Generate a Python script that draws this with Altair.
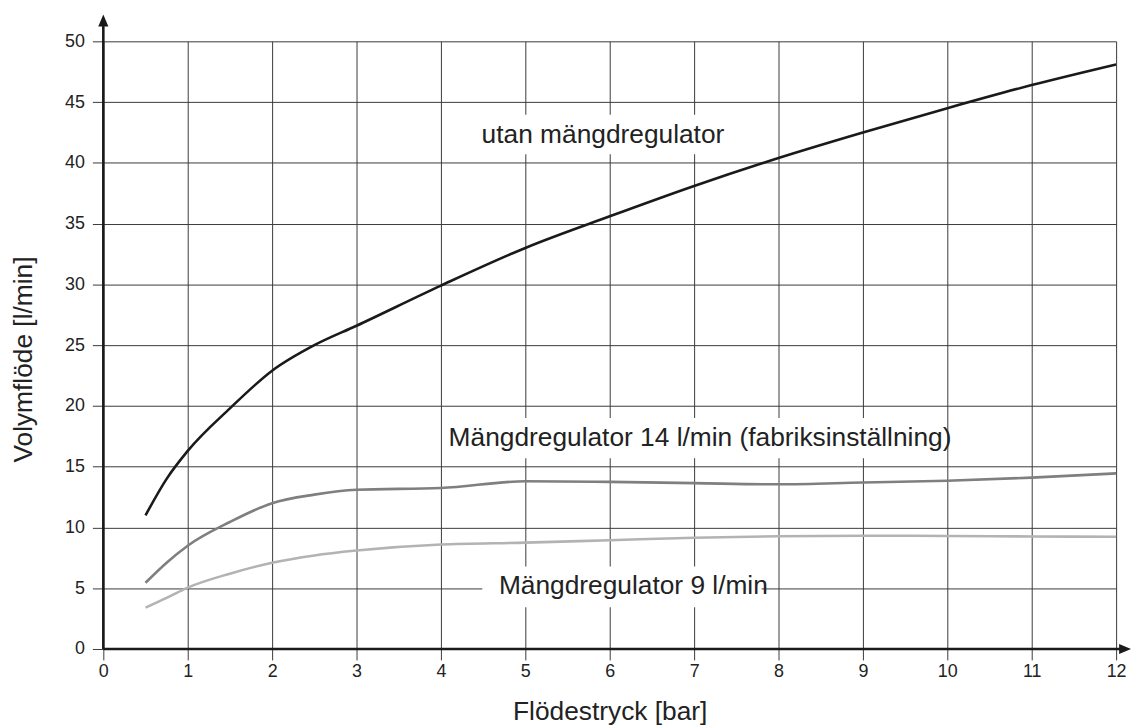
import altair as alt
import pandas as pd

# ---- data ----
x_vals = [0.5, 0.75, 1, 1.5, 2, 2.5, 3, 4, 5, 6, 7, 8, 9, 10, 11, 12]
utan = [11.0, 14.0, 16.3, 19.8, 22.9, 25.0, 26.6, 29.9, 33.0, 35.6, 38.1, 40.4, 42.5, 44.5, 46.4, 48.1]
reg14 = [5.45, 7.1, 8.5, 10.45, 12.0, 12.7, 13.1, 13.25, 13.8, 13.75, 13.65, 13.55, 13.7, 13.85, 14.1, 14.45]
reg9 = [3.4, 4.2, 5.05, 6.2, 7.1, 7.7, 8.1, 8.6, 8.75, 8.95, 9.15, 9.28, 9.32, 9.3, 9.26, 9.23]

series_names = ["utan mängdregulator", "Mängdregulator 14 l/min (fabriksinställning)", "Mängdregulator 9 l/min"]
series_colors = ["#1a1a1a", "#7f7f7f", "#b3b3b3"]

label_text = series_names
label_x = [5.92, 7.07, 6.28]
label_y = [41.6, 16.69, 4.49]
# white label background boxes (data units)
box_x0 = [4.31, 4.05, 4.49]
box_x1 = [7.42, 9.93, 7.80]
box_y0 = [40.7, 15.7, 3.43]
box_y1 = [43.95, 19.0, 6.78]

X_MAX, Y_MAX = 12, 50
x_ticks = list(range(0, 13))
y_ticks = list(range(0, 51, 5))

FONT = "Liberation Sans"

rows = []
for name, vals in zip(series_names, [utan, reg14, reg9]):
    for xv, yv in zip(x_vals, vals):
        rows.append({"x": xv, "y": yv, "series": name})
df = pd.DataFrame(rows)

labels = pd.DataFrame({"text": label_text, "x": label_x, "y": label_y})
boxes = pd.DataFrame({"x": box_x0, "x2": box_x1, "y": box_y0, "y2": box_y1})

xs = alt.Scale(domain=[0, X_MAX], nice=False, zero=False)
ys = alt.Scale(domain=[0, Y_MAX], nice=False, zero=False)

GRID = "#3a3a3a"
x_axis = alt.Axis(values=x_ticks, grid=True, gridColor=GRID, gridWidth=1, domain=False,
                  ticks=True, tickColor=GRID, tickSize=11, tickWidth=1, labelFlush=False,
                  labelFont=FONT, labelFontSize=18, labelColor="#222", labelPadding=3,
                  title="Flödestryck [bar]", titleFont=FONT, titleFontSize=26.5,
                  titleFontWeight="normal", titleColor="#222",
                  titleBaseline="alphabetic", titleY=71)
y_axis = alt.Axis(values=y_ticks, grid=True, gridColor=GRID, gridWidth=1, domain=False,
                  ticks=True, tickColor=GRID, tickSize=11, tickWidth=1, labelFlush=False,
                  labelFont=FONT, labelFontSize=18, labelColor="#222", labelPadding=8,
                  title="Volymflöde [l/min]", titleFont=FONT, titleFontSize=26.5,
                  titleFontWeight="normal", titleColor="#222", titleAngle=270,
                  titleAlign="center", titleBaseline="alphabetic", titleX=-72, titleY=320)

X = lambda: alt.X("x:Q", scale=xs, axis=x_axis)
Y = lambda: alt.Y("y:Q", scale=ys, axis=y_axis)

box_layer = alt.Chart(boxes).mark_rect(fill="white", strokeWidth=0).encode(
    x=X(), x2="x2:Q", y=Y(), y2="y2:Q",
)

lines = alt.Chart(df).mark_line(strokeWidth=2.6, interpolate="monotone").encode(
    x=X(), y=Y(),
    color=alt.Color("series:N", scale=alt.Scale(domain=series_names, range=series_colors), legend=None),
    detail="series:N",
)

# axis lines with arrows
y_line_top = Y_MAX + 1.3
x_line_end = X_MAX + 0.05
axis_lines = pd.DataFrame({
    "x": [0, 0], "x2": [0, x_line_end], "y": [0, 0], "y2": [y_line_top, 0]
})
axis_rules = alt.Chart(axis_lines).mark_rule(color="#1a1a1a", strokeWidth=2.6).encode(
    x=X(), x2="x2:Q", y=Y(), y2="y2:Q",
)

up_arrow = alt.Chart(pd.DataFrame({"x": [0], "y": [Y_MAX + 1.72]})).mark_point(
    shape="M-0.85,1L0,-1L0.85,1Z", filled=True, size=144, color="#1a1a1a", opacity=1, strokeWidth=0
).encode(x=X(), y=Y())

right_arrow = alt.Chart(pd.DataFrame({"x": [X_MAX + 0.106], "y": [0]})).mark_point(
    shape="M-1,-0.85L1,0L-1,0.85Z", filled=True, size=144, color="#1a1a1a", opacity=1, strokeWidth=0
).encode(x=X(), y=Y())

texts = alt.Chart(labels).mark_text(
    font=FONT, fontSize=26.5, color="#222", align="center", baseline="alphabetic"
).encode(
    x=X(), y=Y(), text="text:N",
)

chart = alt.layer(box_layer, lines, axis_rules, up_arrow, right_arrow, texts).properties(
    width=1020, height=612,
    autosize=alt.AutoSizeParams(type="none"),
    padding={"left": 96, "top": 31, "right": 16, "bottom": 76},
    background="white",
).configure_view(stroke=None)

chart.save("out.html", embed_options={"renderer": "svg", "actions": False})
